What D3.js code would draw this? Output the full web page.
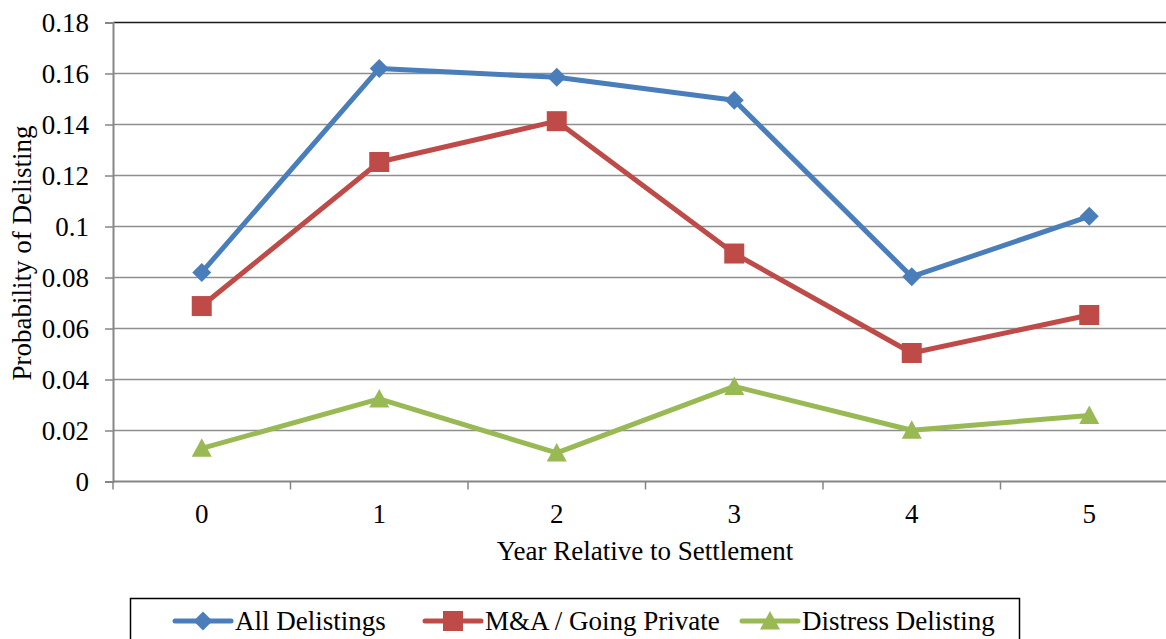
<!DOCTYPE html>
<html>
<head>
<meta charset="utf-8">
<script src="https://cdn.jsdelivr.net/npm/d3@7"></script>
<style>
  html, body { margin: 0; padding: 0; background: #fff; }
</style>
</head>
<body>
<svg id="chart" width="1166" height="639"></svg>
<script>
// Years relative to settlement
const years = ["0", "1", "2", "3", "4", "5"];
// Probability of delisting by type
const allDelistings = [0.082, 0.162, 0.1585, 0.1495, 0.0803, 0.104];
const maGoingPrivate = [0.0688, 0.1253, 0.1413, 0.0894, 0.0504, 0.0653];
const distressDelisting = [0.013, 0.0324, 0.0112, 0.0373, 0.0201, 0.0259];
const yTicks = [0, 0.02, 0.04, 0.06, 0.08, 0.1, 0.12, 0.14, 0.16, 0.18];

const series = [
  { name: "All Delistings", values: allDelistings, color: "#4a7ebb", symbol: "diamond" },
  { name: "M&A / Going Private", values: maGoingPrivate, color: "#be4b48", symbol: "square" },
  { name: "Distress Delisting", values: distressDelisting, color: "#98b954", symbol: "triangle" }
];

const FONT = "'Liberation Serif', 'Times New Roman', serif";
const svg = d3.select("#chart");
const plot = { left: 113, right: 1178, top: 22.5, bottom: 481.5 };

const x = d3.scaleBand().domain(years).range([plot.left, plot.right]).padding(0);
const y = d3.scaleLinear().domain([0, 0.18]).range([plot.bottom, plot.top]);

// Horizontal gridlines
svg.append("g")
  .selectAll("line")
  .data(yTicks.filter(t => t > 0))
  .join("line")
  .attr("x1", plot.left).attr("x2", plot.right)
  .attr("y1", d => y(d)).attr("y2", d => y(d))
  .attr("stroke", d => d === 0.18 ? "#1a1a1a" : "#8e8e8e")
  .attr("stroke-width", 1.5);

// Y axis
const yAxis = d3.axisLeft(y).tickValues(yTicks).tickSize(8).tickPadding(16)
  .tickFormat(d => d === 0 ? "0" : String(+d.toFixed(2)));
const yg = svg.append("g").attr("transform", `translate(${plot.left},0)`).call(yAxis);
yg.select(".domain").attr("stroke", "#868686").attr("stroke-width", 2);
yg.selectAll(".tick line").attr("stroke", "#868686").attr("stroke-width", 1.5);
yg.selectAll(".tick text").attr("fill", "#000").attr("dy", "0.34em");

// X axis: ticks at category boundaries
const xBoundaries = d3.range(years.length + 1).map(i => plot.left + i * x.step());
const xg = svg.append("g");
xg.append("line")
  .attr("x1", plot.left).attr("x2", plot.right)
  .attr("y1", plot.bottom).attr("y2", plot.bottom)
  .attr("stroke", "#868686").attr("stroke-width", 2);
xg.selectAll("line.tick")
  .data(xBoundaries)
  .join("line").attr("class", "tick")
  .attr("x1", d => d).attr("x2", d => d)
  .attr("y1", plot.bottom).attr("y2", plot.bottom + 8)
  .attr("stroke", "#868686").attr("stroke-width", 1.5);
xg.selectAll("text")
  .data(years)
  .join("text")
  .attr("x", d => x(d) + x.bandwidth() / 2)
  .attr("y", 523)
  .attr("text-anchor", "middle")
  .text(d => d);

// Axis titles
svg.append("text")
  .attr("x", 645).attr("y", 560)
  .attr("text-anchor", "middle")
  .text("Year Relative to Settlement");
svg.append("text")
  .attr("transform", `translate(31, 253) rotate(-90)`)
  .attr("text-anchor", "middle")
  .text("Probability of Delisting");

// Marker shapes
function marker(g, symbol, color) {
  if (symbol === "diamond") {
    g.append("path").attr("d", "M0,-9.5 L9.5,0 L0,9.5 L-9.5,0 Z").attr("fill", color);
  } else if (symbol === "square") {
    g.append("rect").attr("x", -10).attr("y", -10).attr("width", 20).attr("height", 20).attr("fill", color);
  } else {
    g.append("path").attr("d", "M0,-10 L10,8.5 L-10,8.5 Z").attr("fill", color);
  }
}

const line = d3.line()
  .x((d, i) => x(years[i]) + x.bandwidth() / 2)
  .y(d => y(d));

series.forEach(s => {
  svg.append("path")
    .datum(s.values)
    .attr("fill", "none")
    .attr("stroke", s.color)
    .attr("stroke-width", 5)
    .attr("stroke-linejoin", "round")
    .attr("d", line);
  s.values.forEach((v, i) => {
    const g = svg.append("g")
      .attr("transform", `translate(${x(years[i]) + x.bandwidth() / 2},${y(v)})`);
    marker(g, s.symbol, s.color);
  });
});

// Legend
const legend = svg.append("g");
legend.append("rect")
  .attr("x", 130.5).attr("y", 598.5).attr("width", 889).attr("height", 50)
  .attr("fill", "none").attr("stroke", "#000").attr("stroke-width", 1.5);
const legendX = [175, 425, 742];
series.forEach((s, i) => {
  const g = legend.append("g").attr("transform", `translate(${legendX[i]},621)`);
  g.append("line").attr("x1", 0).attr("x2", 56).attr("y1", 0).attr("y2", 0)
    .attr("stroke", s.color).attr("stroke-width", 5).attr("stroke-linecap", "round");
  const m = g.append("g").attr("transform", "translate(28,0)");
  marker(m, s.symbol, s.color);
  g.append("text").attr("x", 60).attr("y", 9).text(s.name);
});

// Typeface and size for every label
svg.selectAll("text")
  .style("font-family", FONT)
  .style("font-size", "27px");
</script>
</body>
</html>
